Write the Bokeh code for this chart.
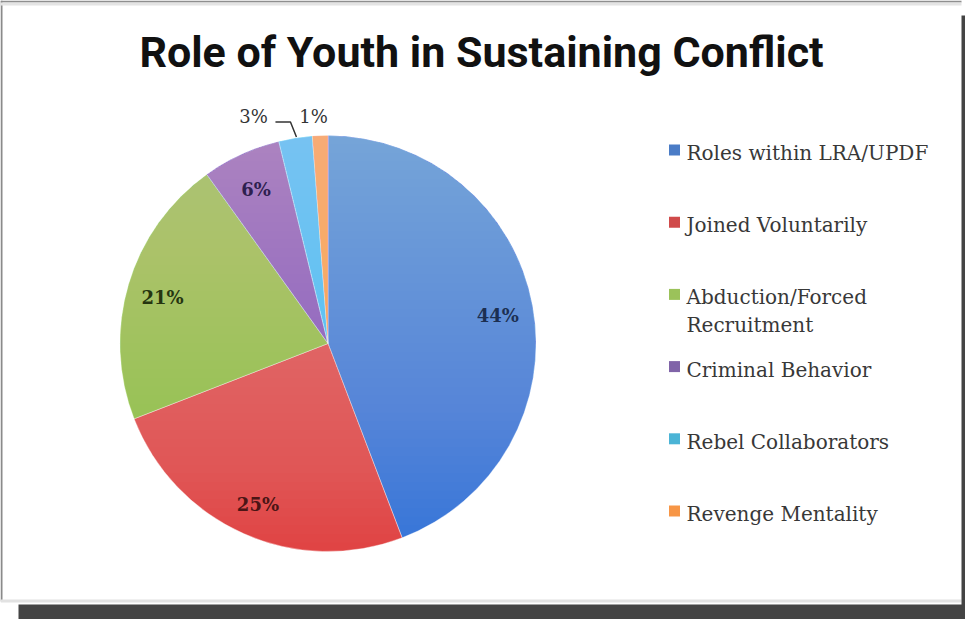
import numpy as np
from bokeh.plotting import figure
from bokeh.models import ColumnDataSource, Range1d
from bokeh.core.properties import value
from bokeh.embed import file_html
from bokeh.resources import INLINE

# ---------------- data ----------------
title_text = "Role of Youth in Sustaining Conflict"
categories = ["Roles within LRA/UPDF", "Joined Voluntarily", "Abduction/Forced\nRecruitment",
              "Criminal Behavior", "Rebel Collaborators", "Revenge Mentality"]
values = [44.2, 24.9, 21.0, 6.1, 2.6, 1.2]
slice_colors = ["#3474d8", "#e04242", "#88c236", "#7c50c0", "#36c2f2", "#f78a34"]
legend_colors = ["#4a7cc6", "#d04a4a", "#9bc25a", "#8064a8", "#4bb4d6", "#f79646"]
label_colors = ["#1c2f52", "#4a1515", "#253510", "#2e1f4f", "#333333", "#333333"]

# ---------------- layout ----------------
W, H = 965, 619


def X(rx):
    return rx - 8


def Y(ry):
    return H - (ry - 8)


p = figure(width=W, height=H, output_backend="svg", toolbar_location=None,
           x_range=Range1d(0, W), y_range=Range1d(0, H), min_border=0)
p.axis.visible = False
p.grid.visible = False
p.outline_line_color = None
p.background_fill_color = "white"
p.border_fill_color = "white"

# frame with drop shadow
p.quad(left=[X(8)], right=[X(10)], top=[Y(8)], bottom=[Y(609)], fill_color="#8a8a8a", line_color=None)
p.quad(left=[X(8)], right=[X(969)], top=[Y(8)], bottom=[Y(10)], fill_color="#8f8f8f", line_color=None)
p.quad(left=[X(8)], right=[X(969)], top=[Y(10)], bottom=[Y(13)], fill_color="#e4e4e4", line_color=None)
p.quad(left=[X(8)], right=[X(969)], top=[Y(607)], bottom=[Y(610)], fill_color="#e2e2e2", line_color=None)
p.quad(left=[X(969)], right=[X(973)], top=[Y(23)], bottom=[Y(627)], fill_color="#444444", line_color=None)
p.quad(left=[X(26)], right=[X(973)], top=[Y(612)], bottom=[Y(627)], fill_color="#444444", line_color=None)

# title
p.text(x=[X(489)], y=[Y(59)], text=[title_text], text_align="center", text_baseline="alphabetic",
       text_font=value("Liberation Sans Narrow, Roboto, sans-serif"), text_font_style="bold",
       text_font_size="43px", text_color="#111111")

# ---------------- pie ----------------
cx, cy, R = X(335.5), Y(351), 208
vals = np.array(values)
frac = vals / vals.sum()
cum = np.concatenate([[0], np.cumsum(frac)])
start = np.pi / 2 - 2 * np.pi * cum[:-1]
end = np.pi / 2 - 2 * np.pi * cum[1:]
mid = (start + end) / 2

src = ColumnDataSource(dict(cat=categories, start=start, end=end, color=slice_colors))
p.wedge(x=cx, y=cy, radius=R, start_angle="start", end_angle="end", direction="clock",
        fill_color="color", line_color="white", line_width=0.8, line_alpha=0.5, source=src)

# vertical light gradient over the pie (stacked translucent caps)
n = 48
d = 1 - 0.58 ** (1 / n)
xs, ys = [], []
for k in range(1, n + 1):
    h = R - 2 * R * k / n
    a0 = np.arcsin(np.clip(h / R, -1, 1))
    th = np.linspace(a0, np.pi - a0, 90)
    xs.append(list(cx + R * np.cos(th)))
    ys.append(list(cy + R * np.sin(th)))
p.patches(xs=xs, ys=ys, fill_color="white", fill_alpha=d, line_color=None)

# data labels
pct = [f"{int(round(v))}%" for v in frac * 100]
lr = 0.83 * R
inside = 4
p.text(x=list(cx + lr * np.cos(mid[:inside])), y=list(cy + lr * np.sin(mid[:inside]) - 3),
       text=pct[:inside], text_align="center", text_baseline="middle",
       text_font=value("DejaVu Serif"), text_font_style="bold", text_font_size="18px",
       text_color=label_colors[:inside])

# outside labels for the two thin slices
out_r = 1.09 * R
x1 = cx + out_r * np.cos(mid[5]) - 6
y1 = cy + out_r * np.sin(mid[5])
x3 = x1 - 60
p.text(x=[x3, x1], y=[y1, y1], text=[pct[4], pct[5]], text_align="center", text_baseline="middle",
       text_font=value("DejaVu Serif"), text_font_size="18px", text_color=label_colors[4:])
p.line(x=[x3 + 22, x3 + 37, cx + R * np.cos(mid[4]) + 1],
       y=[y1 - 5, y1 - 5, cy + R * np.sin(mid[4]) + 1], line_color="#333333", line_width=1.5)

# ---------------- legend ----------------
row0, step = Y(157.5), 72.2
ly = [row0 - i * step for i in range(len(categories))]
p.rect(x=[X(682)] * len(categories), y=ly, width=11, height=11, fill_color=legend_colors, line_color=None)
tx, ty, tt = [], [], []
for yy, lab in zip(ly, categories):
    for j, line in enumerate(lab.split("\n")):
        tx.append(X(694))
        ty.append(yy - 3 - j * 28)
        tt.append(line)
p.text(x=tx, y=ty, text=tt, text_align="left", text_baseline="middle",
       text_font=value("DejaVu Serif"), text_font_size="20px", text_color="#383838")

open("out.html", "w").write(file_html(p, INLINE))
